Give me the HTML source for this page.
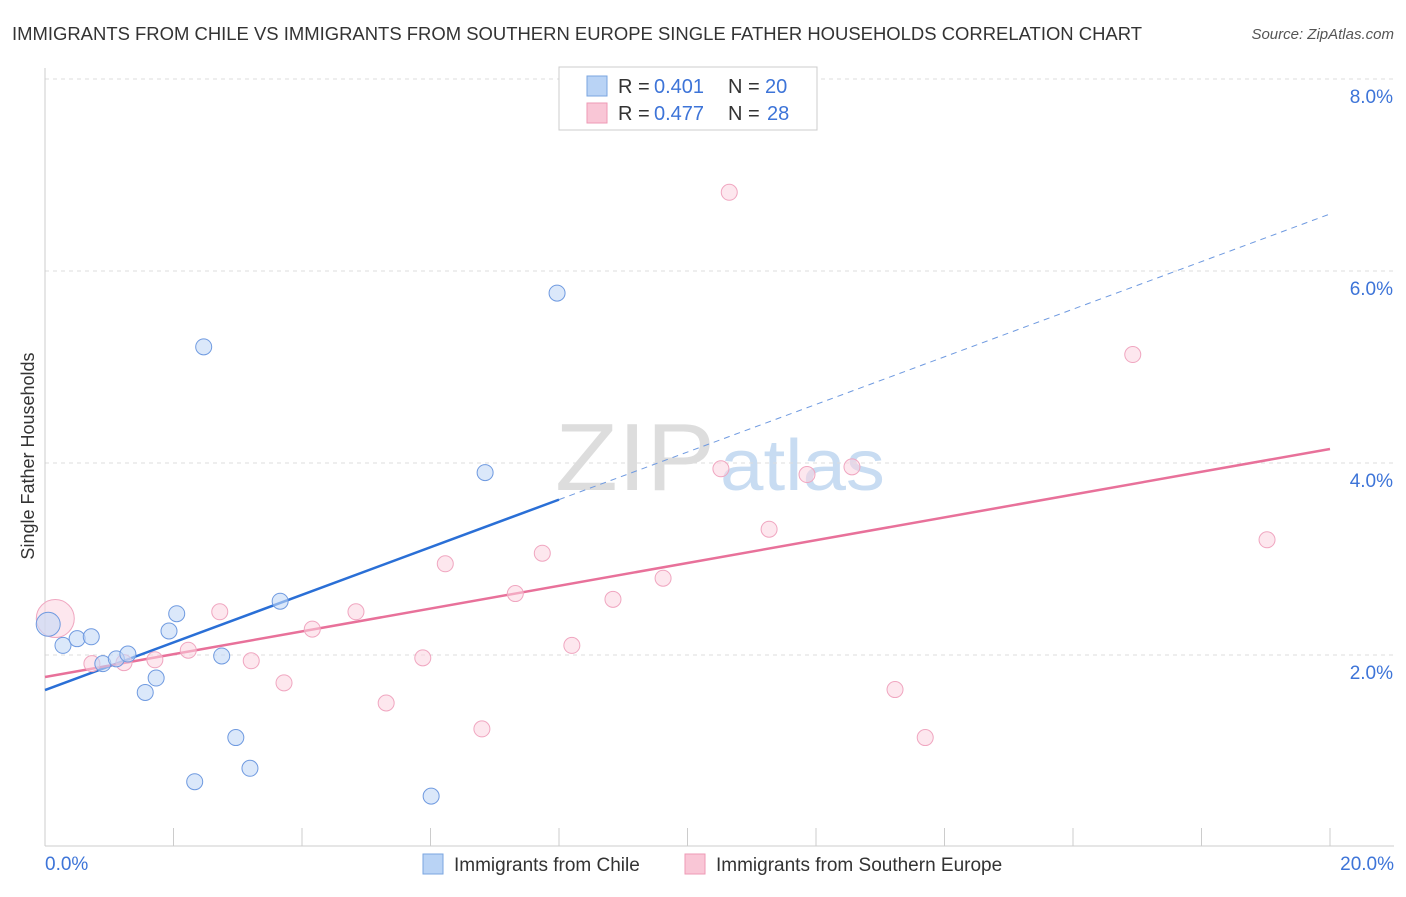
<!DOCTYPE html>
<html><head><meta charset="utf-8"><style>
body{margin:0;background:#fff;font-family:"Liberation Sans",sans-serif}
svg text{font-family:"Liberation Sans",sans-serif}
</style></head><body>
<svg id="chart" width="1406" height="892">
<text x="12" y="40" font-size="18" fill="#333" textLength="1130" lengthAdjust="spacingAndGlyphs">IMMIGRANTS FROM CHILE VS IMMIGRANTS FROM SOUTHERN EUROPE SINGLE FATHER HOUSEHOLDS CORRELATION CHART</text>
<text x="1394" y="39" font-size="15" fill="#555" text-anchor="end" font-style="italic">Source: ZipAtlas.com</text>
<text x="555" y="490" font-size="96" fill="#ddd" textLength="160" lengthAdjust="spacingAndGlyphs" font-family="Liberation Serif">ZIP</text>
<text x="720" y="490" font-size="72" fill="#c8dcf2" textLength="165" lengthAdjust="spacingAndGlyphs">atlas</text>
<text transform="translate(34,456) rotate(-90)" font-size="18" fill="#333" text-anchor="middle">Single Father Households</text>
<g id="grid"></g><g id="lines"></g><g id="points"></g>
<g>
<rect x="559" y="67" width="258" height="63" fill="#fff" stroke="#ccc"/>
<rect x="587" y="76" width="20" height="20" fill="#b9d3f5" stroke="#7aa6e0"/>
<rect x="587" y="103" width="20" height="20" fill="#f9c6d6" stroke="#ee9ab5"/>
<text x="618" y="93" font-size="20" fill="#333">R =</text>
<text x="654" y="93" font-size="20" fill="#3d74d8">0.401</text>
<text x="728" y="93" font-size="20" fill="#333">N =</text>
<text x="765" y="93" font-size="20" fill="#3d74d8">20</text>
<text x="618" y="120" font-size="20" fill="#333">R =</text>
<text x="654" y="120" font-size="20" fill="#3d74d8">0.477</text>
<text x="728" y="120" font-size="20" fill="#333">N =</text>
<text x="767" y="120" font-size="20" fill="#3d74d8">28</text>
</g>
<g>
<rect x="423" y="854" width="20" height="20" fill="#b9d3f5" stroke="#7aa6e0"/>
<text x="454" y="871" font-size="19" fill="#333">Immigrants from Chile</text>
<rect x="685" y="854" width="20" height="20" fill="#f9c6d6" stroke="#ee9ab5"/>
<text x="716" y="871" font-size="19" fill="#333">Immigrants from Southern Europe</text>
</g>
<text x="45" y="870" font-size="19" fill="#3d74d8">0.0%</text>
<text x="1394" y="870" font-size="19" fill="#3d74d8" text-anchor="end">20.0%</text>
</svg>
<script>
const yTicks=[2,4,6,8];
const yTickLabels=["2.0%","4.0%","6.0%","8.0%"];
const xTicks=[0,2,4,6,8,10,12,14,16,18,20];
const chileX=[0.05,0.28,0.50,0.72,0.90,1.11,1.29,1.56,1.73,1.93,2.05,2.33,2.47,2.75,2.97,3.19,3.66,6.01,6.85,7.97];
const chileY=[2.32,2.10,2.17,2.19,1.91,1.96,2.01,1.61,1.76,2.25,2.43,0.68,5.21,1.99,1.14,0.82,2.56,0.53,3.90,5.77];
const seX=[0.16,0.73,1.23,1.71,2.23,2.72,3.21,3.72,4.16,4.84,5.31,5.88,6.23,6.80,7.32,7.74,8.20,8.84,9.62,10.52,10.65,11.27,11.86,12.56,13.23,13.70,16.93,19.02];
const seY=[2.38,1.91,1.92,1.95,2.05,2.45,1.94,1.71,2.27,2.45,1.50,1.97,2.95,1.23,2.64,3.06,2.10,2.58,2.80,3.94,6.82,3.31,3.88,3.96,1.64,1.14,5.13,3.20];
const chileTrend=[1.635,6.594];
const seTrend=[1.771,4.146];
const NS="http://www.w3.org/2000/svg";
const X=v=>45+v*64.25, Y=v=>847-v*96;
function mk(tag,attrs,parent){const e=document.createElementNS(NS,tag);for(const k in attrs)e.setAttribute(k,attrs[k]);parent.appendChild(e);return e;}
const grid=document.getElementById('grid'),lines=document.getElementById('lines'),pts=document.getElementById('points');
yTicks.forEach((t,i)=>{
 const l=mk('line',{x1:45,x2:1394,y1:Y(t),y2:Y(t),stroke:'#ddd','stroke-dasharray':'4,4'},grid);
 
 
 const tx=mk('text',{x:1393,y:Y(t)+24,'font-size':19,fill:'#3d74d8','text-anchor':'end'},grid);
 tx.textContent=yTickLabels[i];
 
 
});
const ax=mk('line',{x1:45,x2:1394,y1:846,y2:846,stroke:'#ccc'},grid);


const ay=mk('line',{x1:45,x2:45,y1:68,y2:846,stroke:'#ccc'},grid);


xTicks.forEach(t=>{
 const l=mk('line',{x1:X(t),x2:X(t),y1:828,y2:846,stroke:'#ccc'},grid);
 
 
});
const cAt=v=>chileTrend[0]+(chileTrend[1]-chileTrend[0])*v/20;
const sAt=v=>seTrend[0]+(seTrend[1]-seTrend[0])*v/20;
const t1=mk('line',{x1:X(0),y1:Y(cAt(0)),x2:X(8),y2:Y(cAt(8)),stroke:'#2a6fd6','stroke-width':2.5},lines);


const t2=mk('line',{x1:X(8),y1:Y(cAt(8)),x2:X(20),y2:Y(cAt(20)),stroke:'#6f9ae0','stroke-width':1,'stroke-dasharray':'6,5'},lines);


const t3=mk('line',{x1:X(0),y1:Y(sAt(0)),x2:X(20),y2:Y(sAt(20)),stroke:'#e8719a','stroke-width':2.5},lines);


seX.forEach((v,i)=>{
 const c=mk('circle',{cx:X(v),cy:Y(seY[i]),r:i===0?19:8,fill:'#fbd3e0','fill-opacity':0.55,stroke:'#f0a6c0'},pts);
 
 
});
chileX.forEach((v,i)=>{
 const c=mk('circle',{cx:X(v),cy:Y(chileY[i]),r:i===0?12:8,fill:'#c3d9f6','fill-opacity':0.6,stroke:'#6f9ae0'},pts);
 
 
});
</script>
</body></html>
